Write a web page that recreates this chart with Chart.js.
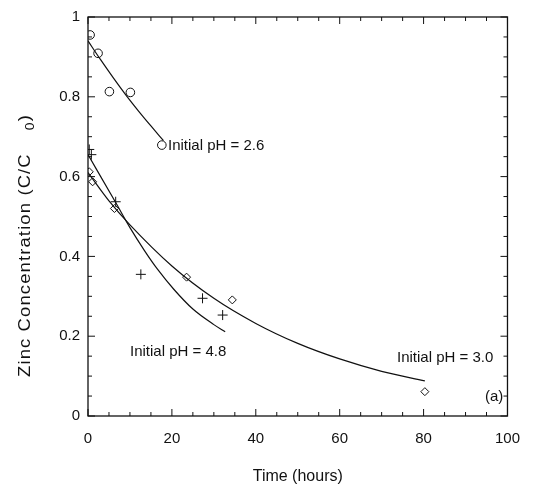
<!DOCTYPE html>
<html>
<head>
<meta charset="utf-8">
<script src="https://cdn.jsdelivr.net/npm/chart.js@4.4.1/dist/chart.umd.min.js"></script>
<style>
  html, body { margin: 0; padding: 0; background: #fff; }
  #wrap { width: 534px; height: 486px; }
</style>
</head>
<body>
<div id="wrap"><canvas id="myChart" width="534" height="486"></canvas></div>
<script>
// measured points (time in hours, C/C0)
const ph26Time = [0.5, 2.4, 5.1, 10.1, 17.6];
const ph26Conc = [0.955, 0.909, 0.813, 0.811, 0.679];

const ph48Time = [0.3, 0.8, 6.6, 12.6, 27.3, 32.1];
const ph48Conc = [0.668, 0.655, 0.537, 0.355, 0.295, 0.253];

const ph30Time = [0.3, 1.1, 6.3, 23.5, 34.4, 80.3];
const ph30Conc = [0.612, 0.587, 0.52, 0.348, 0.291, 0.061];

// fitted curves
const fit26Time = [0, 3, 6, 9, 12, 15, 18];
const fit26Conc = [0.94, 0.893, 0.848, 0.805, 0.765, 0.727, 0.69];

const fit48Time = [0, 6.6, 10, 13.5, 16.7, 20.5, 25, 30, 32.7];
const fit48Conc = [0.655, 0.535, 0.472, 0.414, 0.366, 0.317, 0.268, 0.229, 0.211];

const fit30Time = [0, 5, 10, 20, 30, 40, 50, 60, 70, 80.3];
const fit30Conc = [0.61, 0.539, 0.479, 0.376, 0.295, 0.232, 0.182, 0.143, 0.112, 0.088];

const xTickLabels = ['0', '20', '40', '60', '80', '100'];
const yTickLabels = ['0', '0.2', '0.4', '0.6', '0.8', '1'];

const curveLabels = [
    { text: 'Initial pH = 2.6', x: 168, y: 146 },
    { text: 'Initial pH = 4.8', x: 130, y: 352 },
    { text: 'Initial pH = 3.0', x: 397, y: 358 },
    { text: '(a)', x: 485, y: 397 }
];

function toPoints(xs, ys) {
    return xs.map((x, i) => ({ x: x, y: ys[i] }));
}

const ink = '#111';
const fontName = '"Liberation Sans", Arial, sans-serif';

// frame, inward ticks on all four sides, text labels
const framePlugin = {
    id: 'frame',
    afterDraw(chart) {
        const ctx = chart.ctx;
        const xs = chart.scales.x;
        const ys = chart.scales.y;
        const a = chart.chartArea;
        ctx.save();
        ctx.strokeStyle = ink;
        ctx.lineWidth = 1.3;
        ctx.strokeRect(a.left, a.top, a.right - a.left, a.bottom - a.top);

        ctx.lineWidth = 1;
        ctx.beginPath();
        for (let v = 0; v <= 100; v += 5) {
            let px = xs.getPixelForValue(v);
            let len = (v % 20 === 0) ? 7 : 4;
            ctx.moveTo(px, a.bottom); ctx.lineTo(px, a.bottom - len);
            ctx.moveTo(px, a.top); ctx.lineTo(px, a.top + len);
        }
        for (let i = 0; i <= 20; i++) {
            let v = i * 0.05;
            let py = ys.getPixelForValue(v);
            let len = (i % 4 === 0) ? 7 : 4;
            ctx.moveTo(a.left, py); ctx.lineTo(a.left + len, py);
            ctx.moveTo(a.right, py); ctx.lineTo(a.right - len, py);
        }
        ctx.stroke();

        ctx.fillStyle = ink;
        ctx.font = '15px ' + fontName;
        ctx.textBaseline = 'middle';
        ctx.textAlign = 'left';
        curveLabels.forEach(l => ctx.fillText(l.text, l.x, l.y));

        // x title
        ctx.textAlign = 'center';
        ctx.font = '16px ' + fontName;
        ctx.fillText('Time (hours)', (a.left + a.right) / 2, 477);

        // y title, rotated, stretched a little along the text, with subscript
        ctx.translate(26, 377);
        ctx.rotate(-Math.PI / 2);
        ctx.scale(1.15, 1);
        ctx.textAlign = 'left';
        ctx.letterSpacing = '1px';
        const main = 'Zinc Concentration (C/C';
        ctx.fillText(main, 0, 0);
        let w = ctx.measureText(main).width;
        ctx.font = '12px ' + fontName;
        ctx.fillText('0', w + 20, 5);
        let w2 = ctx.measureText('0').width;
        ctx.font = '16px ' + fontName;
        ctx.fillText(')', w + 20 + w2, 0);
        ctx.restore();
    }
};

const markerStyle = { borderColor: ink, backgroundColor: 'rgba(0,0,0,0)', borderWidth: 1, showLine: false };
const lineStyle = { borderColor: ink, borderWidth: 1.2, pointRadius: 0, showLine: true, cubicInterpolationMode: 'monotone', fill: false };

const myChart = new Chart(document.getElementById('myChart').getContext('2d'), {
    type: 'scatter',
    data: {
        datasets: [
            Object.assign({ label: 'pH 2.6', data: toPoints(ph26Time, ph26Conc), pointStyle: 'circle', pointRadius: 4.3 }, markerStyle),
            Object.assign({ label: 'pH 4.8', data: toPoints(ph48Time, ph48Conc), pointStyle: 'cross', pointRadius: 5 }, markerStyle),
            Object.assign({ label: 'pH 3.0', data: toPoints(ph30Time, ph30Conc), pointStyle: 'rectRot', pointRadius: 4 }, markerStyle),
            Object.assign({ label: 'fit 2.6', data: toPoints(fit26Time, fit26Conc) }, lineStyle),
            Object.assign({ label: 'fit 4.8', data: toPoints(fit48Time, fit48Conc) }, lineStyle),
            Object.assign({ label: 'fit 3.0', data: toPoints(fit30Time, fit30Conc) }, lineStyle)
        ]
    },
    options: {
        responsive: false,
        animation: false,
        layout: { padding: { top: 17, right: 14, left: 0, bottom: 0 } },
        plugins: { legend: { display: false }, tooltip: { enabled: false } },
        scales: {
            x: {
                type: 'linear', min: 0, max: 100,
                afterFit(scale) { scale.height = 70; },
                border: { display: false },
                grid: { display: false, drawTicks: false },
                ticks: {
                    stepSize: 20, padding: 14, color: ink,
                    font: { family: fontName, size: 15 },
                    callback: (v) => xTickLabels[Math.round(v / 20)]
                }
            },
            y: {
                type: 'linear', min: 0, max: 1,
                afterFit(scale) { scale.width = 88; },
                border: { display: false },
                grid: { display: false, drawTicks: false },
                ticks: {
                    stepSize: 0.2, padding: 8, color: ink,
                    font: { family: fontName, size: 15 },
                    callback: (v) => yTickLabels[Math.round(v / 0.2)]
                }
            }
        }
    },
    plugins: [framePlugin]
});
</script>
</body>
</html>
